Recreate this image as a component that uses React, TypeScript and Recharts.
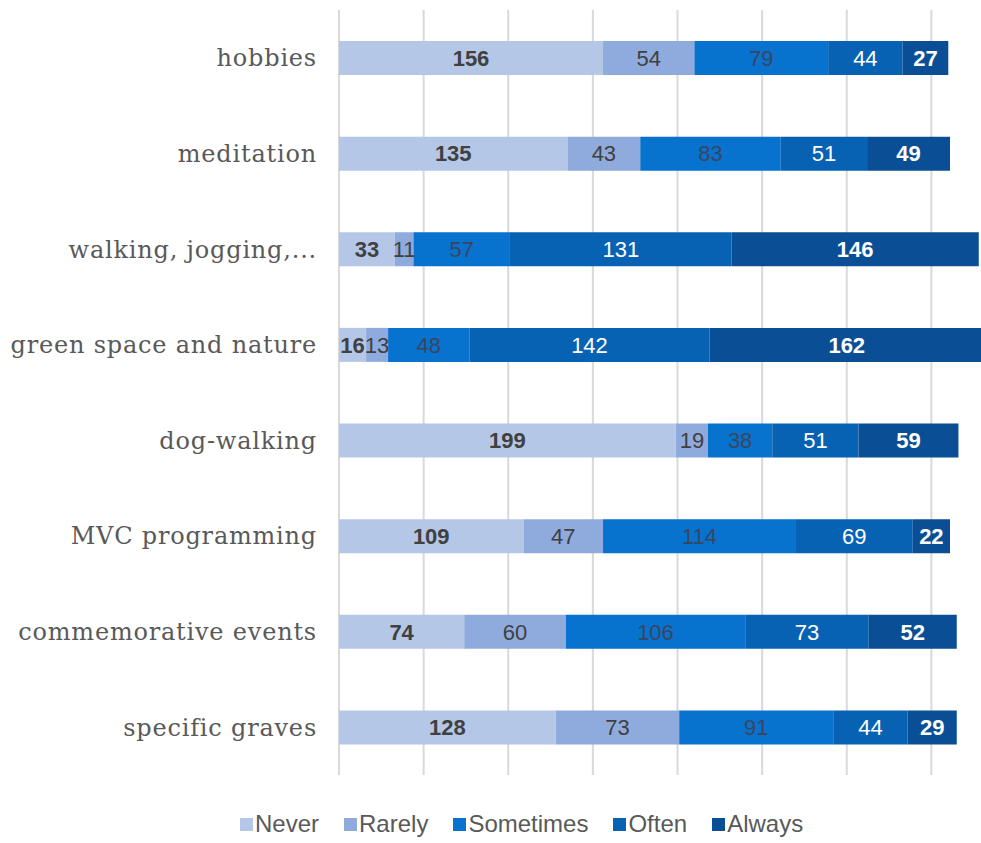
import React from 'react';
import { BarChart, Bar, XAxis, YAxis, CartesianGrid, Legend, LabelList } from 'recharts';

const categories = [
  'hobbies',
  'meditation',
  'walking, jogging,...',
  'green space and nature',
  'dog-walking',
  'MVC programming',
  'commemorative events',
  'specific graves',
];
const never = [156, 135, 33, 16, 199, 109, 74, 128];
const rarely = [54, 43, 11, 13, 19, 47, 60, 73];
const sometimes = [79, 83, 57, 48, 38, 114, 106, 91];
const often = [44, 51, 131, 142, 51, 69, 73, 44];
const always = [27, 49, 146, 162, 59, 22, 52, 29];
const xTicks = [0, 50, 100, 150, 200, 250, 300, 350, 400];

const data = categories.map((name, i) => ({
  name,
  Never: never[i],
  Rarely: rarely[i],
  Sometimes: sometimes[i],
  Often: often[i],
  Always: always[i],
}));

// colour + label style per series
const SERIES = [
  { key: 'Never', fill: '#b4c7e7', label: '#404040', bold: true },
  { key: 'Rarely', fill: '#8faadc', label: '#404040', bold: false },
  { key: 'Sometimes', fill: '#0872cf', label: '#3a4660', bold: false },
  { key: 'Often', fill: '#0762b4', label: '#ffffff', bold: false },
  { key: 'Always', fill: '#0a4f96', label: '#ffffff', bold: true },
];

const LegendBox = () => (
  <div style={{ display: 'flex', gap: 25, paddingLeft: 240, fontFamily: '"Liberation Sans", Arial, sans-serif', fontSize: 24, color: '#595959' }}>
    {SERIES.map(s => (
      <div key={s.key} style={{ display: 'flex', alignItems: 'center' }}>
        <span style={{ display: 'inline-block', width: 13, height: 13, background: s.fill, marginRight: 2 }} />
        <span>{s.key}</span>
      </div>
    ))}
  </div>
);

const App: React.FC = () => {
  return (
    <div style={{ width: 981, height: 843, overflow: 'hidden', background: '#fff' }}>
      <style>{'body{margin:0;overflow:hidden}'}</style>
      <BarChart
        width={1016}
        height={843}
        data={data}
        layout="vertical"
        margin={{ top: 10, right: 0, left: 0, bottom: 40 }}
        barSize={34}
      >
        <CartesianGrid horizontal={false} stroke="#d9d9d9" strokeWidth={2} />
        <XAxis type="number" domain={[0, 400]} ticks={xTicks} hide />
        <YAxis
          type="category"
          dataKey="name"
          width={339}
          axisLine={false}
          tickLine={false}
          tickSize={0}
          tickMargin={22}
          tick={{ fontFamily: '"DejaVu Serif", serif', fontSize: 24, fill: '#595959', letterSpacing: 0.8 }}
        />
        <Legend content={<LegendBox />} wrapperStyle={{ top: 810, left: 0, width: 981 }} />
        {SERIES.map(s => (
          <Bar key={s.key} dataKey={s.key} stackId="a" fill={s.fill} isAnimationActive={false}>
            <LabelList
              dataKey={s.key}
              position="center"
              fill={s.label}
              style={{ fontFamily: '"Liberation Sans", Arial, sans-serif', fontSize: 22, fontWeight: s.bold ? 700 : 400 }}
            />
          </Bar>
        ))}
      </BarChart>
    </div>
  );
};

export default App;
